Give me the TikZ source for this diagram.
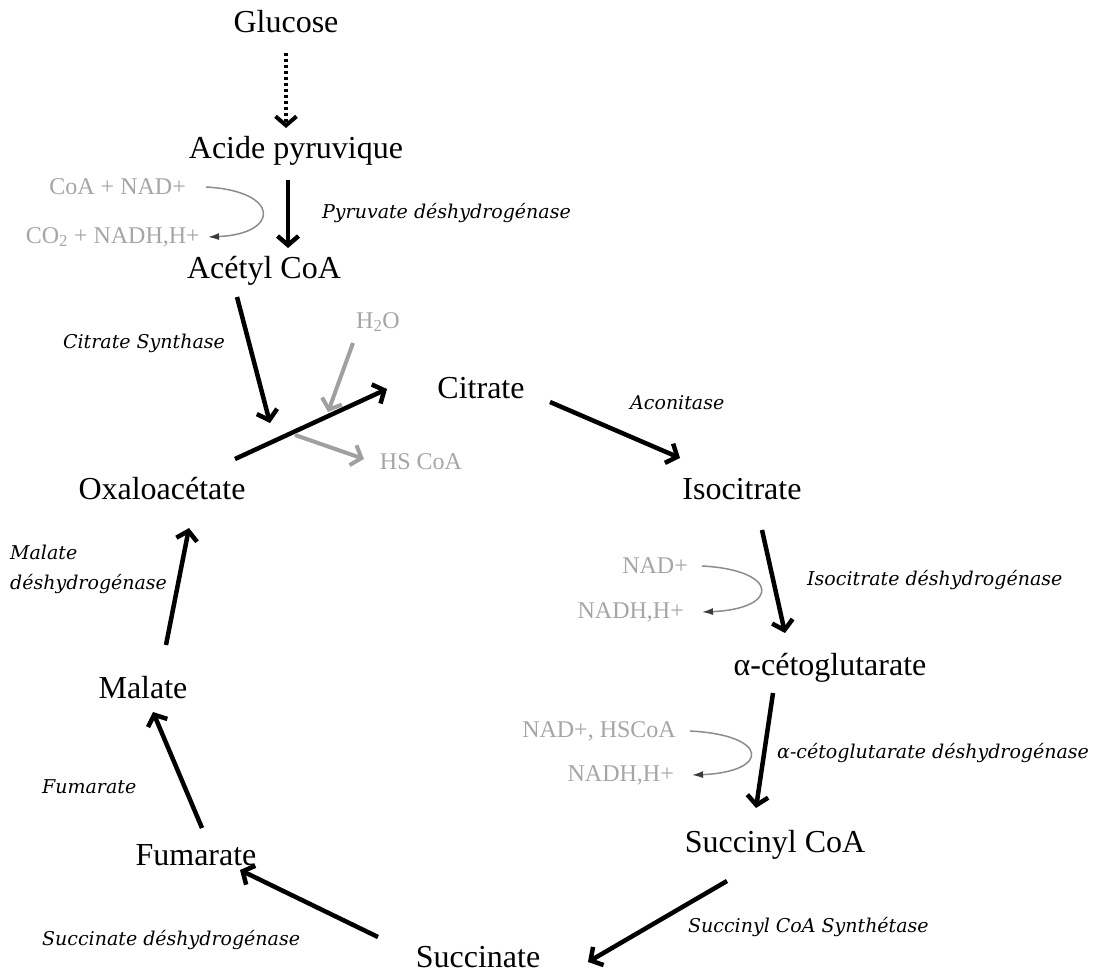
\documentclass[tikz,border=0pt]{standalone}
\usepackage{fontspec}
\setmainfont{Liberation Serif}
\newfontfamily\enzfont{DejaVu Serif}
\usetikzlibrary{arrows.meta}

\definecolor{cofgray}{RGB}{165,165,165}
\definecolor{sidegray}{RGB}{160,160,160}
\definecolor{curvegray}{RGB}{140,140,140}
\definecolor{tipgray}{RGB}{60,60,60}

\begin{document}
\begin{tikzpicture}[
    x=1pt, y=-1pt,
    line join=round,
    metab/.style={
        font=\fontsize{32}{36}\selectfont,
        inner sep=0pt
    },
    enzyme/.style={
        font=\enzfont\itshape\fontsize{19}{30}\selectfont,
        inner sep=0pt,
        align=left
    },
    cofactor/.style={
        font=\fontsize{24}{27}\selectfont,
        text=cofgray,
        inner sep=0pt
    },
    barb/.style={-{Straight Barb[length=9pt,width=21pt]}},
    reaction/.style={barb, line width=4.5pt},
    sidearrow/.style={barb, line width=4pt, draw=sidegray},
    hint/.style={barb, line width=4pt, dash pattern=on 3pt off 3pt},
    cofcurve/.style={-{Latex[length=11pt,width=7pt,color=tipgray]},
        line width=1.5pt, draw=curvegray}
]
\useasboundingbox (0,0) rectangle (1095,974);

% =========================
% Metabolites
% =========================
\node[metab] (glucose)    at (286,22)  {Glucose};
\node[metab] (pyruvique)  at (296,151) {Acide pyruvique};
\node[metab] (acetyl)     at (264,271) {Acétyl CoA};
\node[metab] (citrate)    at (481,388) {Citrate};
\node[metab] (isocitrate) at (742,489) {Isocitrate};
\node[metab] (alphakg)    at (830,668) {α-cétoglutarate};
\node[metab] (succinyl)   at (775,845) {Succinyl CoA};
\node[metab] (succinate)  at (478,957) {Succinate};
\node[metab] (fumarate)   at (196,855) {Fumarate};
\node[metab] (malate)     at (143,688) {Malate};
\node[metab] (oxalo)      at (162,489) {Oxaloacétate};

% =========================
% Enzymes
% =========================
\node[enzyme, anchor=west] (pdh)  at (322,213) {Pyruvate déshydrogénase};
\node[enzyme] (cs)                at (144,343) {Citrate Synthase};
\node[enzyme, anchor=west] (aco)  at (630,403) {Aconitase};
\node[enzyme, anchor=west] (idh)  at (807,580) {Isocitrate déshydrogénase};
\node[enzyme, anchor=west] (kgdh) at (777,753) {α-cétoglutarate déshydrogénase};
\node[enzyme, anchor=west] (scs)  at (688,927) {Succinyl CoA Synthétase};
\node[enzyme, anchor=west] (sdh)  at (42,940)  {Succinate déshydrogénase};
\node[enzyme, anchor=west] (fum)  at (42,787)  {Fumarate};
\node[enzyme, anchor=west] (mdh)  at (10,569)  {Malate\\déshydrogénase};

% =========================
% Cofactors
% =========================
\node[cofactor, anchor=east] (coanad) at (186,187) {CoA + NAD+};
\node[cofactor, anchor=east] (conadh) at (200,237) {CO\textsubscript{2} + NADH,H+};
\node[cofactor] (water)               at (378,322) {H\textsubscript{2}O};
\node[cofactor] (hscoa)               at (421,462) {HS CoA};
\node[cofactor, anchor=east] (nadA)   at (688,566) {NAD+};
\node[cofactor, anchor=east] (nadhA)  at (684,612) {NADH,H+};
\node[cofactor, anchor=east] (nadB)   at (676,731) {NAD+, HSCoA};
\node[cofactor, anchor=east] (nadhB)  at (674,775) {NADH,H+};

% =========================
% Glycolysis and entry
% =========================
\draw[hint] ([shift={(0,31)}]glucose.center) -- ([shift={(-10,-23)}]pyruvique.center);
\draw[reaction] ([shift={(-8,29)}]pyruvique.center) -- ([shift={(24,-23)}]acetyl.center);
\draw[reaction] ([shift={(-27,26)}]acetyl.center) -- ([shift={(108,-66)}]oxalo.center);

% =========================
% Krebs cycle
% =========================
\draw[reaction] ([shift={(73,-30)}]oxalo.center) -- ([shift={(-94,1)}]citrate.center);
\draw[reaction] ([shift={(69,14)}]citrate.center) -- ([shift={(-62,-31)}]isocitrate.center);
\draw[reaction] ([shift={(20,41)}]isocitrate.center) -- ([shift={(-45,-35)}]alphakg.center);
\draw[reaction] ([shift={(-57,25)}]alphakg.center) -- ([shift={(-19,-37)}]succinyl.center);
\draw[reaction] ([shift={(-48,36)}]succinyl.center) -- ([shift={(110,5)}]succinate.center);
\draw[reaction] ([shift={(-100,-20)}]succinate.center) -- ([shift={(44,15)}]fumarate.center);
\draw[reaction] ([shift={(6,-27)}]fumarate.center) -- ([shift={(10,24)}]malate.center);
\draw[reaction] ([shift={(23,-43)}]malate.center) -- ([shift={(27,39)}]oxalo.center);

% =========================
% Side reactants
% =========================
\draw[sidearrow] ([shift={(-25,21)}]water.center) -- ([shift={(-50,90)}]water.center);
\draw[sidearrow] ([shift={(133,-54)}]oxalo.center) -- ([shift={(-57,-3)}]hscoa.center);

\draw[cofcurve] ([xshift=20pt]coanad.east) .. controls +(75,4) and +(72,-3) .. ([xshift=8pt]conadh.east);
\draw[cofcurve] ([xshift=14pt]nadA.east) .. controls +(78,4) and +(78,-3) .. ([xshift=18pt]nadhA.east);
\draw[cofcurve] ([xshift=14pt]nadB.east) .. controls +(80,4) and +(78,-3) .. ([xshift=18pt]nadhB.east);

\end{tikzpicture}
\end{document}
